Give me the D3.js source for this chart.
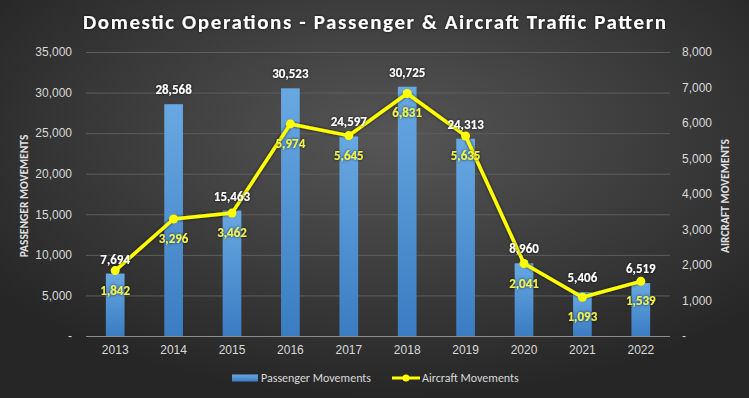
<!DOCTYPE html>
<html>
<head>
<meta charset="utf-8">
<script src="https://cdn.jsdelivr.net/npm/d3@7"></script>
<style>
  html, body { margin: 0; padding: 0; background: #2b2b2b; }
  svg { display: block; font-family: Carlito, Calibri, "Liberation Sans", Arial, sans-serif; }
</style>
</head>
<body>
<div id="chart"></div>
<script>
// chart data
const years = ["2013", "2014", "2015", "2016", "2017", "2018", "2019", "2020", "2021", "2022"];
const passengerMovements = [7694, 28568, 15463, 30523, 24597, 30725, 24313, 8960, 5406, 6519];
const aircraftMovements = [1842, 3296, 3462, 5974, 5645, 6831, 5635, 2041, 1093, 1539];
const leftTicks = [0, 5000, 10000, 15000, 20000, 25000, 30000, 35000];
const rightTicks = [0, 1000, 2000, 3000, 4000, 5000, 6000, 7000, 8000];

const width = 749;
const height = 398;
const margin = { top: 52, right: 79, bottom: 62, left: 86 };

const svg = d3.select("#chart")
    .append("svg")
    .attr("width", width)
    .attr("height", height);

// background radial gradient
const defs = svg.append("defs");
const bg = defs.append("radialGradient")
    .attr("id", "bg")
    .attr("cx", "52%").attr("cy", "35%").attr("r", "65%");
bg.append("stop").attr("offset", "0%").attr("stop-color", "#565656");
bg.append("stop").attr("offset", "100%").attr("stop-color", "#262626");

const barGrad = defs.append("linearGradient")
    .attr("id", "barGrad")
    .attr("x1", 0).attr("y1", 0).attr("x2", 0).attr("y2", 1);
barGrad.append("stop").attr("offset", "0%").attr("stop-color", "#68a8e2");
barGrad.append("stop").attr("offset", "100%").attr("stop-color", "#3b7cc2");

const glow = defs.append("filter").attr("id", "glow")
    .attr("x", "-20%").attr("y", "-20%").attr("width", "140%").attr("height", "140%");
glow.append("feDropShadow")
    .attr("dx", 0).attr("dy", 0).attr("stdDeviation", 1.5)
    .attr("flood-color", "#000").attr("flood-opacity", 0.8);

svg.append("rect")
    .attr("width", width).attr("height", height)
    .attr("fill", "url(#bg)");

const x = d3.scaleBand()
    .domain(years)
    .range([margin.left, width - margin.right])
    .paddingInner(0.68)
    .paddingOuter(0.34);

const yLeft = d3.scaleLinear()
    .domain([0, 35000])
    .range([height - margin.bottom, margin.top]);

const yRight = d3.scaleLinear()
    .domain([0, 8000])
    .range([height - margin.bottom, margin.top]);

const fmt = d3.format(",");
const tickFmt = d => d === 0 ? "-" : fmt(d);

// gridlines
svg.append("g")
    .selectAll("line")
    .data(leftTicks.filter(d => d > 0))
    .join("line")
    .attr("x1", margin.left)
    .attr("x2", width - margin.right)
    .attr("y1", d => yLeft(d) + 0.5)
    .attr("y2", d => yLeft(d) + 0.5)
    .attr("stroke", "#5e5e5e")
    .attr("stroke-width", 1);

// left axis
const leftAxis = svg.append("g")
    .attr("transform", `translate(${margin.left},0)`)
    .call(d3.axisLeft(yLeft).tickValues(leftTicks).tickFormat(tickFmt).tickSize(0).tickPadding(14));
leftAxis.select(".domain").remove();
leftAxis.selectAll("text")
    .attr("fill", "#d9d9d9")
    .attr("font-size", 12)
    .attr("font-family", null);

// right axis
const rightAxis = svg.append("g")
    .attr("transform", `translate(${width - margin.right},0)`)
    .call(d3.axisRight(yRight).tickValues(rightTicks).tickFormat(tickFmt).tickSize(0).tickPadding(12));
rightAxis.select(".domain").remove();
rightAxis.selectAll("text")
    .attr("fill", "#d9d9d9")
    .attr("font-size", 12)
    .attr("font-family", null);

// bars
svg.append("g")
    .selectAll("rect")
    .data(passengerMovements)
    .join("rect")
    .attr("x", (d, i) => x(years[i]))
    .attr("y", d => yLeft(d))
    .attr("width", x.bandwidth())
    .attr("height", d => yLeft(0) - yLeft(d))
    .attr("fill", "url(#barGrad)");

// baseline / bottom axis
const bottomAxis = svg.append("g")
    .attr("transform", `translate(0,${height - margin.bottom})`)
    .call(d3.axisBottom(x).tickSize(0).tickPadding(9));
bottomAxis.select(".domain")
    .attr("d", `M${margin.left},0.5H${width - margin.right}`)
    .attr("stroke", "#8c8c8c");
bottomAxis.selectAll("text")
    .attr("fill", "#d9d9d9")
    .attr("font-size", 12)
    .attr("font-family", null);

// aircraft line
const cx = (d, i) => x(years[i]) + x.bandwidth() / 2;
const line = d3.line()
    .x(cx)
    .y(d => yRight(d));

svg.append("path")
    .datum(aircraftMovements)
    .attr("d", line)
    .attr("fill", "none")
    .attr("stroke", "#ffff00")
    .attr("stroke-width", 3.5)
    .attr("stroke-linejoin", "round")
    .attr("filter", "url(#glow)");

svg.append("g")
    .selectAll("circle")
    .data(aircraftMovements)
    .join("circle")
    .attr("cx", cx)
    .attr("cy", d => yRight(d))
    .attr("r", 4.5)
    .attr("fill", "#ffff00");

// bar value labels
svg.append("g")
    .selectAll("text")
    .data(passengerMovements)
    .join("text")
    .attr("x", cx)
    .attr("y", d => yLeft(d) - 10)
    .attr("text-anchor", "middle")
    .attr("fill", "#ffffff")
    .attr("font-size", 13)
    .attr("font-weight", "bold")
    .attr("filter", "url(#glow)")
    .text(d => fmt(d));

// line value labels
svg.append("g")
    .selectAll("text")
    .data(aircraftMovements)
    .join("text")
    .attr("x", cx)
    .attr("y", d => yRight(d) + 24)
    .attr("text-anchor", "middle")
    .attr("fill", "#f2f24c")
    .attr("font-size", 13)
    .attr("font-weight", "bold")
    .attr("filter", "url(#glow)")
    .text(d => fmt(d));

// title
svg.append("text")
    .attr("x", width / 2)
    .attr("y", 29)
    .attr("text-anchor", "middle")
    .attr("fill", "#ffffff")
    .attr("font-size", 21)
    .attr("font-weight", "bold")
    .attr("textLength", 583)
    .attr("lengthAdjust", "spacing")
    .attr("filter", "url(#glow)")
    .text("Domestic Operations - Passenger & Aircraft Traffic Pattern");

// axis titles
svg.append("text")
    .attr("transform", "translate(28,196) rotate(-90)")
    .attr("text-anchor", "middle")
    .attr("fill", "#e0e0e0")
    .attr("font-size", 11.5)
    .attr("font-weight", "bold")
    .text("PASSENGER MOVEMENTS");

svg.append("text")
    .attr("transform", "translate(729,196) rotate(-90)")
    .attr("text-anchor", "middle")
    .attr("fill", "#e0e0e0")
    .attr("font-size", 11.5)
    .attr("font-weight", "bold")
    .text("AIRCRAFT MOVEMENTS");

// legend
const legend = svg.append("g").attr("transform", "translate(0,378)");
legend.append("rect")
    .attr("x", 232).attr("y", -3.5)
    .attr("width", 26).attr("height", 7)
    .attr("fill", "url(#barGrad)");
legend.append("text")
    .attr("x", 261).attr("y", 4)
    .attr("fill", "#d9d9d9")
    .attr("font-size", 12)
    .text("Passenger Movements");
legend.append("line")
    .attr("x1", 392).attr("x2", 420)
    .attr("y1", 0).attr("y2", 0)
    .attr("stroke", "#ffff00")
    .attr("stroke-width", 3);
legend.append("circle")
    .attr("cx", 406).attr("cy", 0).attr("r", 3.5)
    .attr("fill", "#ffff00");
legend.append("text")
    .attr("x", 422).attr("y", 4)
    .attr("fill", "#d9d9d9")
    .attr("font-size", 12)
    .text("Aircraft Movements");
</script>
</body>
</html>
